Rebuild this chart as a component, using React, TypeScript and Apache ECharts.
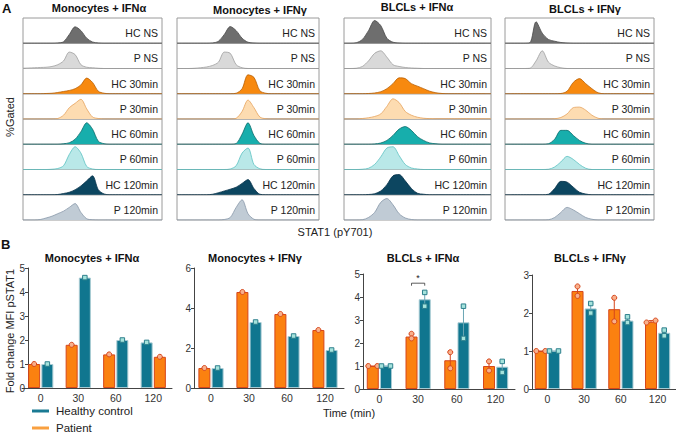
import React, { useEffect, useRef } from "react";
import * as echarts from "echarts";

const FONT = "'Liberation Sans', Arial, sans-serif";

// ---------- Panel A: flow histograms ----------
const histTitles = ["Monocytes + IFNα", "Monocytes + IFNγ", "BLCLs + IFNα", "BLCLs + IFNγ"];
const histRowLabels = ["HC NS", "P NS", "HC 30min", "P 30min", "HC 60min", "P 60min", "HC 120min", "P 120min"];
const histFill = ["#6e6e6e", "#d9d9d9", "#f7890f", "#fddcb1", "#17aeac", "#b9e8e8", "#0c4660", "#c0cbd5"];
const histLine = ["#4a4a4a", "#9e9e9e", "#b85e00", "#e6a25c", "#0b6b6b", "#5cc2c2", "#08324a", "#8797a8"];

// heights (tenths of a row) in 25 bins across each box
const monoAlphaHist = [
  [0,0,0,0,0,0,0.1,0.6,3.5,6.5,5,2,0.5,0.1,0,0,0,0,0,0,0,0,0,0,0],
  [0.1,0.2,0.3,0.4,0.5,0.8,1.5,3,6.5,5.5,1.5,0.5,0.3,0.1,0,0,0,0,0,0,0,0,0,0,0],
  [0,0,0,0,0.1,0.2,0.5,0.9,1.3,2,3.5,6.2,4.5,1,0.2,0,0,0,0,0,0,0,0,0,0],
  [0,0,0,0,0,0,0.2,1.5,4.5,6.2,7.8,4,0.8,0.2,0,0,0,0,0,0,0,0,0,0,0],
  [0,0,0,0,0,0,0,0.2,0.6,2,5,8.5,6,1.2,0.2,0,0,0,0,0,0,0,0,0,0],
  [0,0,0,0,0,0.1,0.4,1.5,6,9,6.5,1.2,0.2,0,0,0,0,0,0,0,0,0,0,0,0],
  [0,0,0,0,0,0,0.1,0.5,1,2,3.5,5.5,7.5,2,0.3,0,0,0,0,0,0,0,0,0,0],
  [0,0,0,0.2,0.8,1.5,2.5,3.5,5,6.5,3,0.5,0.1,0,0,0,0,0,0,0,0,0,0,0,0],
];
const monoGammaHist = [
  [0,0,0,0,0,0,0.1,0.8,3.5,6.6,5,2,0.4,0.1,0,0,0,0,0,0,0,0,0,0,0],
  [0,0,0,0.1,0.3,0.6,1.2,2.5,6.5,6,1.5,0.3,0,0,0,0,0,0,0,0,0,0,0,0,0],
  [0,0,0,0,0,0,0,0,0,0,0.2,2,7.5,6.5,1.2,0.2,0,0,0,0,0,0,0,0,0],
  [0,0,0,0,0,0,0,0,0,0,0.3,3,7.5,4.5,0.8,0.1,0,0,0,0,0,0,0,0,0],
  [0,0,0,0,0,0,0,0,0,0,0.3,4,8.5,3.5,0.4,0,0,0,0,0,0,0,0,0,0],
  [0,0,0,0,0,0,0,0,0,0.2,1.5,6.5,8.5,2,0.3,0,0,0,0,0,0,0,0,0,0],
  [0,0,0,0,0,0,0.2,0.8,1.5,2.2,3,4.5,6,2.5,0.2,0,0,0,0,0,0,0,0,0,0],
  [0,0,0,0,0,0,0,0,0.2,1,5,8,2.5,0.3,0,0,0,0,0,0,0,0,0,0,0],
];
const blclAlphaHist = [
  [0,0,0.2,1.5,5,9,7,2,0.4,0.1,0,0,0,0,0,0,0,0,0,0,0,0,0,0,0],
  [0,0,0.1,0.8,3,6,7,4.5,1.5,0.8,0.4,0.2,0.1,0,0,0,0,0,0,0,0,0,0,0,0],
  [0,0,0,0,0.1,0.3,0.8,2,4,6.3,6,4,3,2,1,0.4,0.1,0,0,0,0,0,0,0,0],
  [0,0,0,0.2,0.5,1,2,5,8,6.5,3,1.5,0.7,0.3,0.15,0.1,0.1,0.1,0.1,0.1,0.1,0.1,0.1,0.1,0.1],
  [0,0,0,0,0,0.1,0.5,1.5,3.5,6,7,5.5,3,1.5,0.5,0.2,0,0,0,0,0,0,0,0,0],
  [0,0,0,0.1,0.5,2,5,8.5,9,5.5,2,0.6,0.2,0,0,0,0,0,0,0,0,0,0,0,0],
  [0,0,0,0,0.1,0.4,1.5,4,7.5,8,5.5,2.5,0.6,0.2,0,0,0,0,0,0,0,0,0,0,0],
  [0,0,0,0.1,1,3,7,8.5,6,2.5,0.8,0.2,0,0,0,0,0,0,0,0,0,0,0,0,0],
];
const blclGammaHist = [
  [0,0,0,0,0.2,8.5,4,1.5,0.8,0.3,0.1,0,0,0,0,0,0,0,0,0,0,0,0,0,0],
  [0,0,0,0,0.1,3,7,2.5,1,0.3,0,0,0,0,0,0,0,0,0,0,0,0,0,0,0],
  [0,0,0,0,0,0,0,0,0,0.1,1,4.5,6,4,2,0.4,0,0,0,0,0,0,0,0,0],
  [0,0,0,0,0,0,0,0,0.1,0.6,2,4.5,4.7,3.5,1.5,0.3,0,0,0,0,0,0,0,0,0],
  [0,0,0,0,0,0,0,0.2,2,5.5,5.5,3.5,1.5,0.4,0,0,0,0,0,0,0,0,0,0,0],
  [0,0,0,0,0,0,0,0.1,1,3,5.2,4,2,0.5,0,0,0,0,0,0,0,0,0,0,0],
  [0,0,0,0,0,0,0,0.2,2.5,5.3,5,3,1,0.3,0,0,0,0,0,0,0,0,0,0,0],
  [0,0,0,0,0,0,0,0.1,1,3,5,4,2.5,1,0.3,0,0,0,0,0,0,0,0,0,0],
];

// ---------- Panel B: fold change bars ----------
const categories = ["0", "30", "60", "120"];
const legendNames = ["Healthy control", "Patient"];

const monoAlphaPatient = [1.0, 1.8, 1.4, 1.3];
const monoAlphaHC = [1.0, 4.6, 2.0, 1.9];
const monoAlphaHCLeft = [false, false, false, true];

const monoGammaPatient = [1.0, 4.8, 3.7, 2.9];
const monoGammaHC = [1.0, 3.3, 2.6, 1.9];

const blclAlphaPatient = [1.0, 2.28, 1.25, 1.0];
const blclAlphaHC = [1.0, 3.9, 2.9, 0.97];
const blclAlphaPatientDots = [[1.0, 1.0], [2.4, 2.2], [1.6, 0.9], [1.2, 0.8]];
const blclAlphaHCDots = [[1.0, 1.0], [4.2, 3.6], [3.6, 2.2], [1.2, 0.72]];

const blclGammaPatient = [1.0, 2.58, 2.1, 1.77];
const blclGammaHC = [1.0, 2.12, 1.8, 1.48];
const blclGammaPatientDots = [[1.0, 1.0], [2.7, 2.45], [2.4, 1.78], [1.75, 1.8]];
const blclGammaHCDots = [[1.0, 1.0], [2.25, 2.0], [1.9, 1.75], [1.55, 1.4]];

const P_COLOR = "#fb8110";
const P_BORDER = "#d6461b";
const HC_COLOR = "#10768f";
const HC_BORDER = "#a8cbd3";

function buildOption() {
  const grid: any[] = [];
  const xAxis: any[] = [];
  const yAxis: any[] = [];
  const series: any[] = [];
  const graphic: any[] = [];

  // ----- Panel A -----
  const boxX = [23, 177, 344, 505];
  const boxW = [139, 142, 147, 149];
  const boxTop = 18;
  const rowH = (220 - 18) / 8;
  const hists = [monoAlphaHist, monoGammaHist, blclAlphaHist, blclGammaHist];
  const titleX = [99, 260, 417, 585];
  const titleY = [8, 10, 7, 9];
  hists.forEach((panel, p) => {
    graphic.push({
      type: "text", x: titleX[p], y: titleY[p],
      style: { text: histTitles[p], font: `bold 11px ${FONT}`, fill: "#111", align: "center", verticalAlign: "middle" },
    });
    panel.forEach((vals, r) => {
      const gi = grid.length;
      const top = boxTop + r * rowH;
      grid.push({ left: boxX[p], top, width: boxW[p], height: rowH, show: true, borderColor: "#9a9a9a", borderWidth: 1, backgroundColor: "transparent" });
      xAxis.push({ type: "value", gridIndex: gi, min: 0, max: 24, show: false });
      yAxis.push({ type: "value", gridIndex: gi, min: 0, max: 10, show: false });
      series.push({
        type: "line", xAxisIndex: gi, yAxisIndex: gi, data: vals.map((v, i) => [i, v]),
        smooth: 0.3, symbol: "none", silent: true,
        lineStyle: { color: histLine[r], width: 0.8 },
        areaStyle: { color: histFill[r], opacity: 1 },
      });
      graphic.push({
        type: "text", x: boxX[p] + boxW[p] - 4, y: top + 15,
        style: { text: histRowLabels[r], font: `10.5px ${FONT}`, fill: "#222", align: "right", verticalAlign: "middle" },
      });
    });
  });

  // ----- Panel B -----
  const panels = [
    { title: "Monocytes + IFNα", tx: 92, grid: { left: 22, top: 268, width: 150, height: 120 }, yMax: 5, yInt: 1, yOff: -6,
      patient: monoAlphaPatient, hc: monoAlphaHC, hcLeft: monoAlphaHCLeft, pDots: monoAlphaPatient.map((v) => [v]), hcDots: monoAlphaHC.map((v) => [v]), err: false, bracket: null as any },
    { title: "Monocytes + IFNγ", tx: 255, grid: { left: 192, top: 268, width: 152, height: 120 }, yMax: 6, yInt: 2, yOff: -2,
      patient: monoGammaPatient, hc: monoGammaHC, hcLeft: [false, false, false, false], pDots: monoGammaPatient.map((v) => [v]), hcDots: monoGammaHC.map((v) => [v]), err: false, bracket: null as any },
    { title: "BLCLs + IFNα", tx: 423, grid: { left: 360, top: 274, width: 155, height: 115 }, yMax: 5, yInt: 1, yOff: -3,
      patient: blclAlphaPatient, hc: blclAlphaHC, hcLeft: [false, false, false, false], pDots: blclAlphaPatientDots, hcDots: blclAlphaHCDots, err: true, bracket: { cat: 1, y: 4.6, text: "*" } },
    { title: "BLCLs + IFNγ", tx: 590, grid: { left: 529, top: 275, width: 147, height: 114 }, yMax: 3, yInt: 1, yOff: -3,
      patient: blclGammaPatient, hc: blclGammaHC, hcLeft: [false, false, false, false], pDots: blclGammaPatientDots, hcDots: blclGammaHCDots, err: true, bracket: null as any },
  ];

  const BAR_W = 12;
  const HALF = 6.6;

  panels.forEach((pn) => {
    const gi = grid.length;
    grid.push({ ...pn.grid });
    xAxis.push({
      type: "category", gridIndex: gi, data: categories,
      axisLine: { show: true, lineStyle: { color: "#444", width: 1 } },
      axisTick: { show: false },
      axisLabel: { fontSize: 10.5, color: "#333", margin: 4, fontFamily: FONT },
    });
    yAxis.push({
      type: "value", gridIndex: gi, min: 0, max: pn.yMax, interval: pn.yInt, offset: pn.yOff,
      axisLine: { show: true, lineStyle: { color: "#444", width: 1 } },
      axisTick: { show: true, length: 3, lineStyle: { color: "#444" } },
      axisLabel: { fontSize: 10, color: "#333", margin: 3, fontFamily: FONT },
      splitLine: { show: false },
    });
    graphic.push({
      type: "text", x: pn.tx, y: 258,
      style: { text: pn.title, font: `bold 11px ${FONT}`, fill: "#111", align: "center", verticalAlign: "middle" },
    });

    const pStyle = { color: P_COLOR, borderColor: P_BORDER, borderWidth: 1 };
    const hStyle = { color: HC_COLOR, borderColor: HC_BORDER, borderWidth: 1 };
    const leftData = categories.map((_, i) => pn.hcLeft[i] ? { value: pn.hc[i], itemStyle: hStyle } : { value: pn.patient[i], itemStyle: pStyle });
    const rightData = categories.map((_, i) => pn.hcLeft[i] ? { value: pn.patient[i], itemStyle: pStyle } : { value: pn.hc[i], itemStyle: hStyle });
    series.push({ type: "bar", name: legendNames[1], xAxisIndex: gi, yAxisIndex: gi, data: leftData, barWidth: BAR_W, barGap: "10%", itemStyle: { color: P_COLOR }, z: 2 });
    series.push({ type: "bar", name: legendNames[0], xAxisIndex: gi, yAxisIndex: gi, data: rightData, barWidth: BAR_W, barGap: "10%", itemStyle: { color: HC_COLOR }, z: 2 });

    // error bars (range of replicates)
    if (pn.err) {
      const errData: any[] = [];
      categories.forEach((_, i) => {
        const pSide = pn.hcLeft[i] ? 1 : -1;
        const pd = pn.pDots[i], hd = pn.hcDots[i];
        errData.push([i, Math.min(...pd), Math.max(...pd), pSide, 0]);
        errData.push([i, Math.min(...hd), Math.max(...hd), -pSide, 1]);
      });
      series.push({
        type: "custom", xAxisIndex: gi, yAxisIndex: gi, z: 3, silent: true,
        encode: { x: 0, y: [1, 2] },
        data: errData,
        renderItem: (params: any, api: any) => {
          const cat = api.value(0);
          const lo = api.coord([cat, api.value(1)]);
          const hi = api.coord([cat, api.value(2)]);
          const x = lo[0] + api.value(3) * HALF;
          const stroke = api.value(4) === 0 ? P_BORDER : "#6aa6b4";
          return {
            type: "group",
            children: [
              { type: "line", shape: { x1: x, y1: lo[1], x2: x, y2: hi[1] }, style: { stroke, lineWidth: 1 } },
              { type: "line", shape: { x1: x - 2.5, y1: hi[1], x2: x + 2.5, y2: hi[1] }, style: { stroke, lineWidth: 1 } },
            ],
          };
        },
      });
    }

    // replicate dots
    const pPoints: any[] = [];
    const hPoints: any[] = [];
    categories.forEach((_, i) => {
      const pSide = pn.hcLeft[i] ? 1 : -1;
      const addDots = (dots: number[], side: number, arr: any[]) => {
        const tied = dots.length === 2 && Math.abs(dots[0] - dots[1]) < 0.1;
        dots.forEach((v, k) => {
          const jitter = tied ? (k === 0 ? -4.5 : 4.5) : 0;
          arr.push({ value: [i, v], symbolOffset: [side * HALF + jitter, 0] });
        });
      };
      addDots(pn.pDots[i], pSide, pPoints);
      addDots(pn.hcDots[i], -pSide, hPoints);
    });
    series.push({
      type: "scatter", xAxisIndex: gi, yAxisIndex: gi, z: 4, silent: true, symbol: "circle", symbolSize: 5,
      itemStyle: { color: "#f8b08c", borderColor: P_BORDER, borderWidth: 1, opacity: 1 }, data: pPoints,
    });
    series.push({
      type: "scatter", xAxisIndex: gi, yAxisIndex: gi, z: 4, silent: true, symbol: "rect", symbolSize: 4.5,
      itemStyle: { color: "#a5e3dc", borderColor: "#2d7f8c", borderWidth: 1, opacity: 1 }, data: hPoints,
    });

    if (pn.bracket) {
      series.push({
        type: "custom", xAxisIndex: gi, yAxisIndex: gi, z: 5, silent: true,
        encode: { x: 0, y: 1 },
        data: [[pn.bracket.cat, pn.bracket.y]],
        renderItem: (params: any, api: any) => {
          const c = api.coord([api.value(0), api.value(1)]);
          const x1 = c[0] - HALF, x2 = c[0] + HALF, y = c[1];
          return {
            type: "group",
            children: [
              { type: "polyline", shape: { points: [[x1, y + 2.5], [x1, y], [x2, y], [x2, y + 2.5]] }, style: { stroke: "#333", lineWidth: 0.8, fill: "none" } },
              { type: "text", style: { text: pn.bracket.text, x: c[0], y: y - 1, align: "center", verticalAlign: "bottom", font: `9px ${FONT}`, fill: "#222" } },
            ],
          };
        },
      });
    }
  });

  // legend drawn as graphic (line swatch + label)
  const legendColors = ["#1a7a93", "#f9a040"];
  legendNames.forEach((name, k) => {
    const y = 411 + k * 17;
    graphic.push(
      { type: "rect", shape: { x: 32, y: y - 1.5, width: 17, height: 3 }, style: { fill: legendColors[k] } },
      { type: "text", x: 56, y, style: { text: name, font: `11.5px ${FONT}`, fill: "#222", verticalAlign: "middle" } },
    );
  });

  // panel letters & axis titles
  graphic.push(
    { type: "text", x: 2, y: 8, style: { text: "A", font: `bold 13px ${FONT}`, fill: "#111", verticalAlign: "middle" } },
    { type: "text", x: 1, y: 244, style: { text: "B", font: `bold 13px ${FONT}`, fill: "#111", verticalAlign: "middle" } },
    { type: "text", x: 10, y: 117, rotation: Math.PI / 2, style: { text: "%Gated", font: `11px ${FONT}`, fill: "#222", align: "center", verticalAlign: "middle" } },
    { type: "text", x: 335, y: 232, style: { text: "STAT1 (pY701)", font: `11px ${FONT}`, fill: "#222", align: "center", verticalAlign: "middle" } },
    { type: "text", x: 10, y: 331, rotation: Math.PI / 2, style: { text: "Fold change MFI pSTAT1", font: `11px ${FONT}`, fill: "#222", align: "center", verticalAlign: "middle" } },
    { type: "text", x: 349, y: 413, style: { text: "Time (min)", font: `11px ${FONT}`, fill: "#222", align: "center", verticalAlign: "middle" } },
  );

  return {
    animation: false,
    backgroundColor: "#ffffff",
    textStyle: { fontFamily: FONT },
    grid, xAxis, yAxis, series, graphic,
  };
}

export default function App() {
  const ref = useRef<HTMLDivElement>(null);
  useEffect(() => {
    if (!ref.current) return;
    const chart = echarts.init(ref.current, undefined, { renderer: "svg" });
    chart.setOption(buildOption() as any);
    return () => chart.dispose();
  }, []);
  return <div ref={ref} style={{ width: 676, height: 434, position: "absolute", left: 0, top: 0 }} />;
}
